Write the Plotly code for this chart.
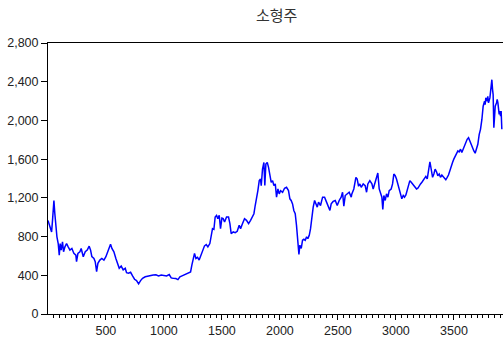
import plotly.graph_objects as go

day_seg1 = [1,17,32,40,52,60,69,78,89,98,106,115,126,135,147,161,175,190,207,224,
            241,247,259,276,287,305,322,339,356,368,379,397,408,420,431,448,465,483,500,517,
            529,540,552,569,586,603,615,632,649,667,678,695,713,730,747,764,782,799,816,839,
            862,885,908,931,954,977,1000,1023,1046,1063,1080,1103,1121,1138,1161,1184,1207,1230,1241,1253,
            1264,1276,1290,1304]
value_seg1 = [967,899,848,967,1172,1036,899,797,728,608,728,660,746,643,694,728,694,660,677,626,
              608,540,626,643,677,592,643,660,701,660,592,574,540,438,523,557,574,557,592,643,
              677,721,677,643,574,523,472,495,455,472,427,421,431,393,359,345,311,345,369,384,
              393,398,403,405,393,403,396,393,408,373,369,366,355,383,396,408,418,435,506,592,
              626,574,585,557]

day_seg2 = [1316,1333,1350,1365,1379,1396,1408,1419,1431,1442,1454,1465,1477,1488,1500,1511,1523,1540,1557,1569,
            1580,1598,1615,1632,1649,1661,1678,1695,1712,1730,1747,1764,1776,1787,1799,1810,1822,1833,1839,1850,
            1862,1870,1879,1891,1902,1914,1925,1937,1948,1960,1971,1983,1994,2006,2023,2040,2057,2074,2086,2097,
            2109,2120,2132,2143,2155,2164,2172,2184,2195,2207,2218,2230,2241,2253,2264,2276,2287,2299,2310,2322,
            2333,2350,2368,2385,2402,2419,2431,2442,2459,2477,2494,2511,2528,2540,2551,2563,2580,2597,2615]
value_seg2 = [592,643,704,718,694,728,797,882,875,1002,1019,985,1019,882,991,985,951,1002,1002,934,
              831,848,841,854,916,882,934,985,968,934,968,1002,1036,1121,1190,1275,1378,1395,1327,1497,
              1566,1327,1549,1566,1515,1446,1361,1378,1327,1344,1207,1292,1241,1275,1258,1299,1309,1275,1190,1173,
              1138,1070,1036,916,779,615,711,677,762,772,762,797,779,813,882,1019,1104,1173,1138,1104,
              1156,1121,1207,1207,1156,1115,1070,1138,1163,1173,1121,1173,1207,1258,1115,1224,1241,1258,1207]

day_seg3 = [2620,2637,2655,2666,2678,2689,2701,2718,2735,2747,2758,2775,2793,2804,2816,2833,2844,2856,2867,2879,
            2887,2896,2908,2919,2931,2942,2959,2971,2982,2994,3005,3017,3028,3040,3051,3063,3074,3086,3097,3109,
            3120,3132,3143,3155,3166,3178,3189,3201,3212,3224,3235,3247,3258,3270,3281,3293,3304,3316,3327,3338,
            3350,3361,3373,3384,3396,3407,3419,3430,3442,3453,3465,3476,3488,3499,3511,3522,3534,3545,3557,3568,
            3580,3591,3603,3614,3626,3637,3649,3660,3672,3683,3695,3706,3718,3729,3741,3752,3764,3769,3775,3787,
            3792,3798,3810,3821,3827,3833,3838,3844,3850,3856,3867,3873,3879,3884,3890,3896,3902,3907,3913]
value_seg3 = [1241,1292,1412,1395,1320,1344,1309,1344,1327,1258,1344,1378,1344,1292,1344,1395,1456,1292,1258,1207,
              1080,1224,1173,1241,1207,1275,1292,1344,1446,1429,1395,1344,1309,1258,1190,1224,1207,1231,1275,1327,
              1378,1361,1344,1327,1320,1292,1299,1327,1344,1361,1378,1395,1422,1395,1497,1573,1497,1412,1446,1497,
              1470,1429,1446,1412,1436,1422,1402,1388,1412,1436,1480,1532,1566,1600,1627,1651,1685,1675,1703,1668,
              1709,1744,1771,1805,1822,1788,1737,1720,1685,1661,1703,1754,1856,1908,2010,2147,2198,2164,2233,2198,
              2250,2181,2233,2335,2421,2318,2267,1925,2096,2147,2181,2216,2181,2130,2062,2096,2045,2096,1908]

x_tick_values = [500, 1000, 1500, 2000, 2500, 3000, 3500]
y_tick_values = [0, 400, 800, 1200, 1600, 2000, 2400, 2800]
title_text = "소형주"

days = day_seg1 + day_seg2 + day_seg3
values = value_seg1 + value_seg2 + value_seg3

fig = go.Figure()
fig.add_trace(go.Scatter(x=days, y=values, mode="lines",
                         line=dict(color="#0000FF", width=1.5), showlegend=False,
                         hoverinfo="skip"))

tick_font = dict(family="Liberation Sans, Arial, sans-serif", size=12.5, color="#222222")

fig.update_layout(
    width=503, height=338,
    margin=dict(l=48, r=0, t=43, b=22),
    paper_bgcolor="white", plot_bgcolor="white",
    title=dict(text=title_text, x=0.55, xanchor="center", y=1 - 16/338, yanchor="middle",
               font=dict(family="Noto Sans CJK KR, sans-serif", size=15, color="#333333")),
    xaxis=dict(range=[1, 3923], tickmode="array", tickvals=x_tick_values,
               ticks="outside", ticklen=5, tickwidth=1, tickcolor="black",
               showline=True, linecolor="black", linewidth=1, mirror=True,
               showgrid=False, zeroline=False, tickfont=tick_font,
               minor=dict(dtick=50, tick0=0, ticks="outside", ticklen=3, tickcolor="black",
                          showgrid=False)),
    yaxis=dict(range=[0, 2800], tickmode="array", tickvals=y_tick_values,
               tickformat=",d", ticks="outside", ticklen=6, tickwidth=1, tickcolor="black",
               showline=True, linecolor="black", linewidth=1, mirror=False,
               showgrid=False, zeroline=False, tickfont=tick_font),
)

fig.write_html("out.html")
